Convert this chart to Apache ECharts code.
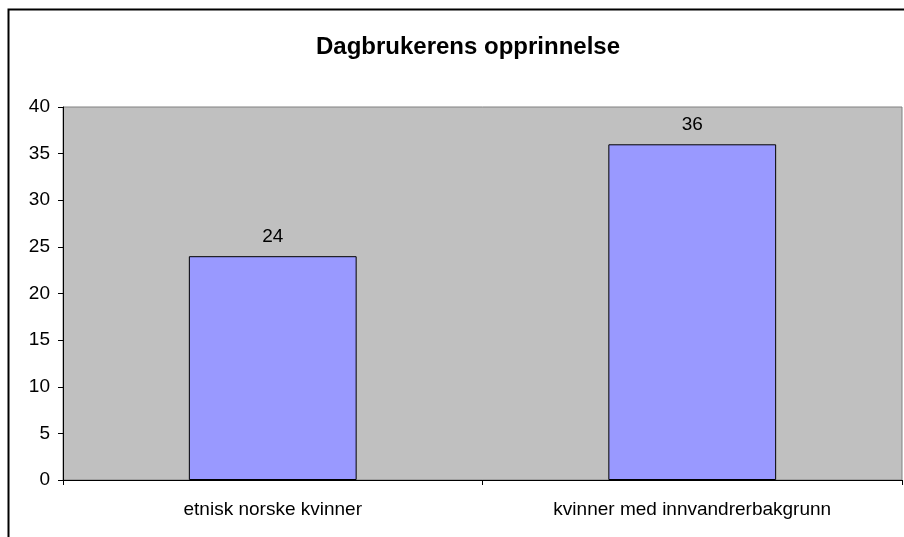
<!DOCTYPE html>
<html lang="no">
  <head>
    <meta charset="UTF-8" />
    <title>Dagbrukerens opprinnelse</title>
    <style>
      * {
        margin: 0;
        padding: 0;
        box-sizing: border-box;
      }
      #main {
        width: 904px;
        height: 537px;
        background-color: #fff;
      }
    </style>
  </head>
  <body>
    <div id="main"></div>
    <script src="https://cdn.jsdelivr.net/npm/echarts@6/dist/echarts.min.js"></script>
    <script>
      const chart = echarts.init(document.getElementById("main"));

      // data
      const titleText = "Dagbrukerens opprinnelse";
      const categories = ["etnisk norske kvinner", "kvinner med innvandrerbakgrunn"];
      const values = [24, 36];

      const font = "Liberation Sans, Arial, sans-serif";

      const option = {
        animation: false,
        title: {
          text: titleText,
          left: 463,
          top: 30,
          textAlign: "center",
          textStyle: { fontFamily: font, fontSize: 24, fontWeight: "bold", color: "#000" },
        },
        graphic: [
          {
            type: "rect",
            shape: { x: 8.5, y: 9.5, width: 1000, height: 1000 },
            style: { fill: null, stroke: "#000", lineWidth: 2 },
            silent: true,
          },
        ],
        grid: {
          left: 63,
          right: 2,
          top: 107,
          bottom: 57,
          show: true,
          backgroundColor: "#c0c0c0",
          borderColor: "#808080",
          borderWidth: 1,
        },
        xAxis: {
          type: "category",
          data: categories,
          axisLine: { lineStyle: { color: "#000", width: 1 } },
          axisTick: { show: true, length: 5, lineStyle: { color: "#000" } },
          axisLabel: { fontFamily: font, fontSize: 19, color: "#000", margin: 20 },
        },
        yAxis: {
          type: "value",
          min: 0,
          max: 40,
          interval: 5,
          splitLine: { show: false },
          axisLine: { show: true, lineStyle: { color: "#000", width: 1 } },
          axisTick: { show: true, length: 5, lineStyle: { color: "#000" } },
          axisLabel: { fontFamily: font, fontSize: 19, color: "#000", margin: 13 },
        },
        series: [
          {
            type: "bar",
            data: values,
            barWidth: "40%",
            itemStyle: { color: "#9999ff", borderColor: "#000", borderWidth: 1 },
            label: {
              show: true,
              position: "top",
              distance: 10,
              fontFamily: font,
              fontSize: 19,
              color: "#000",
            },
          },
        ],
      };
      chart.setOption(option);
    </script>
  </body>
</html>
